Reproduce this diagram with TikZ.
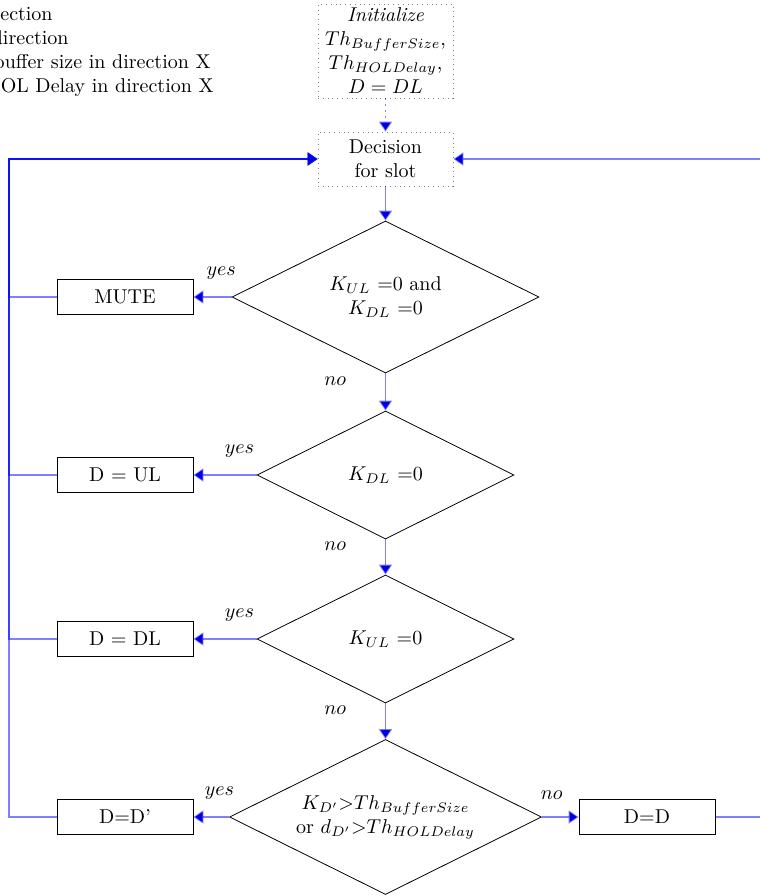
\documentclass[tikz,border=0pt]{standalone}
\usepackage{amsmath}
\usepackage{amssymb}
\usepackage{tikz}
\usetikzlibrary{shapes.geometric, arrows.meta, positioning}

\tikzset{
  startbox/.style={draw=gray, dotted, align=center, minimum width=67.5pt, inner xsep=2pt, inner ysep=1pt},
  decision/.style={draw, diamond, aspect=2, align=center, inner sep=0pt},
  action/.style={draw, rectangle, minimum width=68pt, minimum height=17.5pt},
  flow/.style={draw=blue, line width=0.9pt, draw opacity=0.5, -{Triangle[length=5pt,width=6.5pt,fill=blue!85!black]}},
  answer/.style={inner sep=3.3pt},
  legend/.style={anchor=base east, inner sep=0pt}
}

\begin{document}
\begin{tikzpicture}[x=0.5pt, y=-0.5pt]
\clip (0,0) rectangle (760,896);

% legend, cut by the frame
\node [legend] (leg1) at (53,20) {UL: uplink direction};
\node [legend] (leg2) at (69,44) {DL: downlink direction};
\node [legend] (leg3) at (211,68) {$K_X$: buffer size in direction X};
\node [legend] (leg4) at (214,92) {$d_X$: HOL Delay in direction X};

\node [startbox, minimum height=47pt] (init) at (385.5,51) {\textit{Initialize}\\ $Th_{BufferSize}$,\\ $Th_{HOLDelay}$,\\ $D=DL$};
\node [startbox, minimum height=27pt] (decide) at (385.5,159) {Decision\\ for slot};

\node [decision, minimum width=153.5pt, minimum height=76pt] (q1) at (385.5,297) {$K_{UL}$ =0 and\\ $K_{DL}$ =0};
\node [decision, minimum width=128.5pt, minimum height=64pt] (q2) at (385.5,475) {$K_{DL}$ =0};
\node [decision, minimum width=128.5pt, minimum height=64pt] (q3) at (385.5,639) {$K_{UL}$ =0};
\node [decision, minimum width=156pt, minimum height=77.5pt] (q4) at (385.5,817) {$K_{D'}$>$Th_{BufferSize}$\\ or $d_{D'}$>$Th_{HOLDelay}$};

\node [action] (mute) at (125,297) {MUTE};
\node [action] (ul) at (125,475) {D = UL};
\node [action] (dl) at (125,639) {D = DL};
\node [action] (dprime) at (125,817) {D=D'};
\node [action] (keep) at (647,817) {D=D};

\draw [flow, dotted] (init) -- (decide);
\draw [flow] (decide) -- (q1);
\draw [flow] (q1) -- node[answer, left=16pt, pos=0.2] {$no$} (q2);
\draw [flow] (q2) -- node[answer, left=16pt, pos=0.2] {$no$} (q3);
\draw [flow] (q3) -- node[answer, left=16pt, pos=0.2] {$no$} (q4);

\draw [flow] (q1.west) -- node[answer, above=5pt, pos=0.27] {$yes$} (mute);
\draw [flow] (q2.west) -- node[answer, above=5pt, pos=0.27] {$yes$} (ul);
\draw [flow] (q3.west) -- node[answer, above=5pt, pos=0.27] {$yes$} (dl);
\draw [flow] (q4.west) -- node[answer, above=5pt, pos=0.27] {$yes$} (dprime);
\draw [flow] (q4.east) -- node[answer, above=5pt, pos=0.27] {$no$} (keep);

% back to the decision
\draw [flow] (mute.west) -- ++(-48,0) |- (decide.west);
\draw [flow] (ul.west) -- ++(-48,0) |- (decide.west);
\draw [flow] (dl.west) -- ++(-48,0) |- (decide.west);
\draw [flow] (dprime.west) -- ++(-48,0) |- (decide.west);
\draw [flow] (keep.east) -- ++(56,0) |- (decide.east);
\end{tikzpicture}
\end{document}
